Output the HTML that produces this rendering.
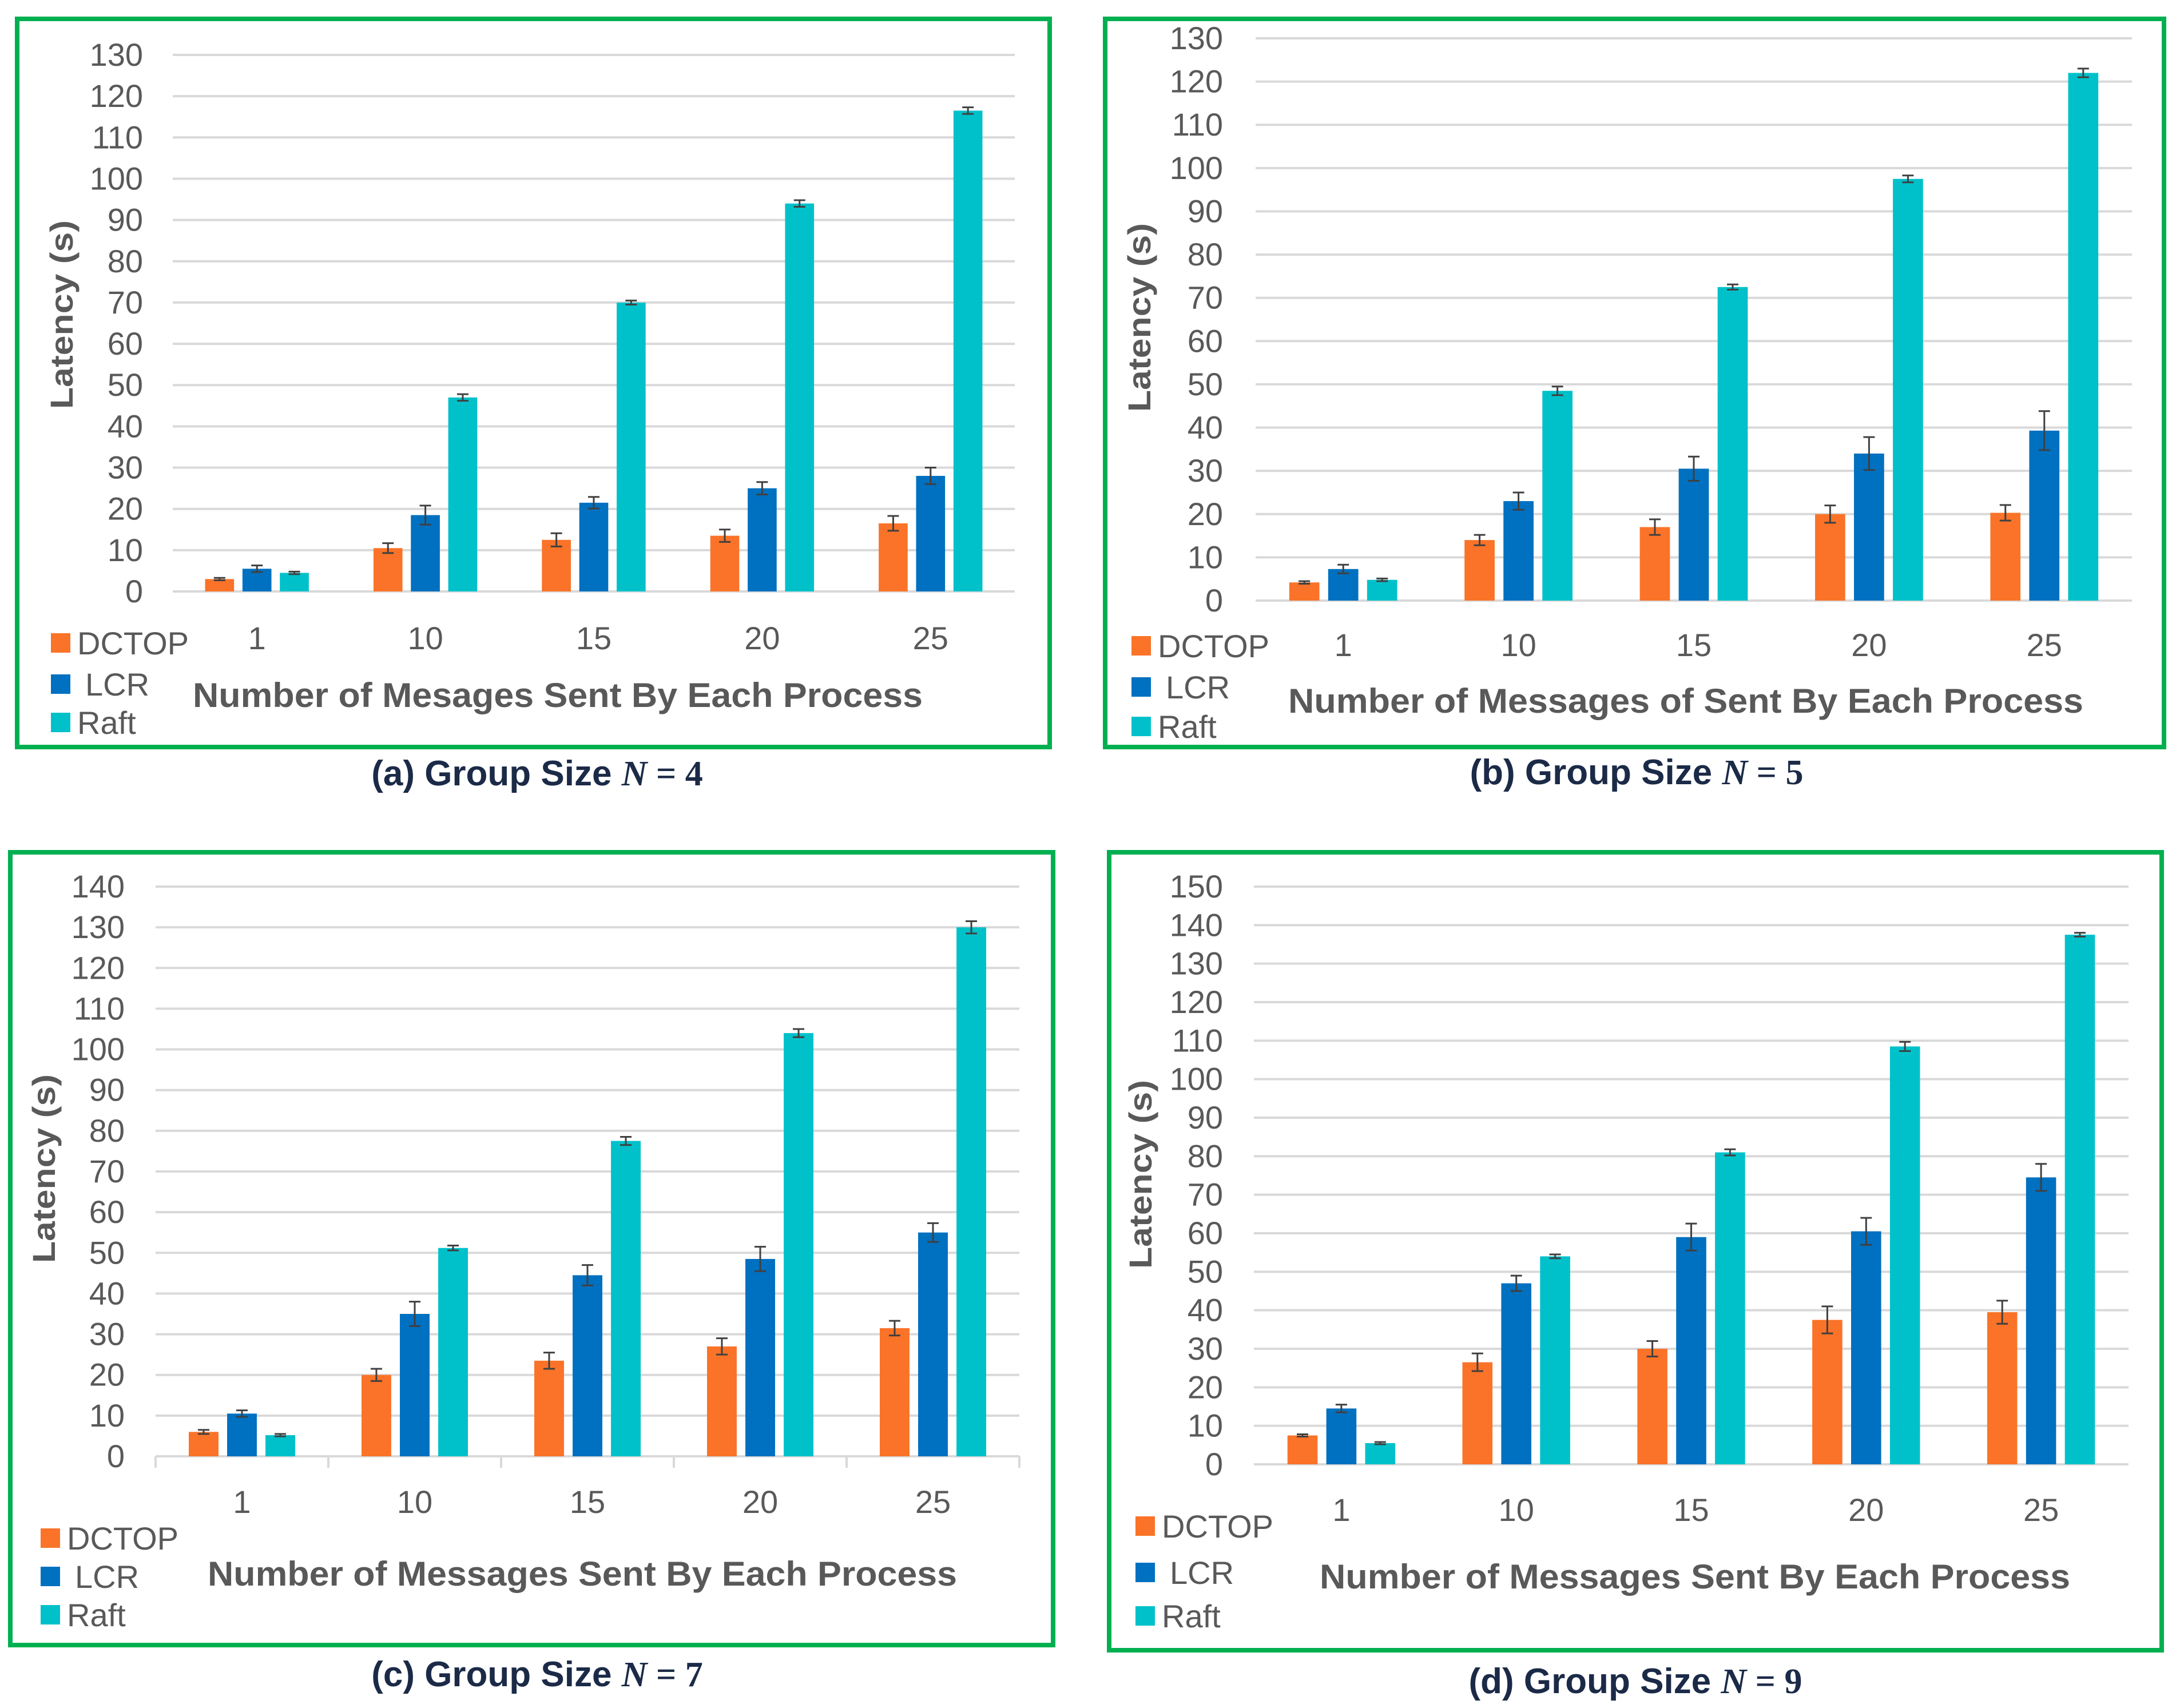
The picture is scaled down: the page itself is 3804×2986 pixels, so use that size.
<!DOCTYPE html>
<html><head><meta charset="utf-8"><style>
html,body{margin:0;padding:0;background:#fff;}
svg{display:block;font-family:"Liberation Sans",sans-serif;}
</style></head><body>
<svg id="root" width="3804" height="2986" viewBox="0 0 3804 2986" xmlns="http://www.w3.org/2000/svg"></svg>
<script>
const categories = ["1","10","15","20","25"];
const seriesNames = ["DCTOP","LCR","Raft"];
const colors = ["#FA7328","#0070C0","#00C1CA"];

const dctopA = [3, 10.5, 12.5, 13.5, 16.5];
const lcrA   = [5.5, 18.5, 21.5, 25, 28];
const raftA  = [4.5, 47, 70, 94, 116.5];
const dctopErrA = [0.3, 1.2, 1.6, 1.5, 1.8];
const lcrErrA   = [0.8, 2.3, 1.4, 1.5, 2];
const raftErrA  = [0.3, 0.8, 0.5, 0.8, 0.8];
const ticksA = [0,10,20,30,40,50,60,70,80,90,100,110,120,130];

const dctopB = [4.2, 14, 17, 20, 20.3];
const lcrB   = [7.3, 23, 30.5, 34, 39.3];
const raftB  = [4.8, 48.5, 72.5, 97.5, 122];
const dctopErrB = [0.3, 1.2, 1.8, 2, 1.8];
const lcrErrB   = [1, 2, 2.8, 3.8, 4.5];
const raftErrB  = [0.3, 1, 0.6, 0.8, 1];
const ticksB = [0,10,20,30,40,50,60,70,80,90,100,110,120,130];

const dctopC = [6, 20, 23.5, 27, 31.5];
const lcrC   = [10.5, 35, 44.5, 48.5, 55];
const raftC  = [5.2, 51.2, 77.5, 104, 130];
const dctopErrC = [0.5, 1.5, 2, 2, 1.8];
const lcrErrC   = [0.8, 3, 2.5, 3, 2.3];
const raftErrC  = [0.3, 0.6, 1, 1, 1.5];
const ticksC = [0,10,20,30,40,50,60,70,80,90,100,110,120,130,140];

const dctopD = [7.5, 26.5, 30, 37.5, 39.5];
const lcrD   = [14.5, 47, 59, 60.5, 74.5];
const raftD  = [5.5, 54, 81, 108.5, 137.5];
const dctopErrD = [0.3, 2.3, 2, 3.5, 3];
const lcrErrD   = [1, 2, 3.5, 3.5, 3.5];
const raftErrD  = [0.3, 0.5, 0.8, 1.2, 0.5];
const ticksD = [0,10,20,30,40,50,60,70,80,90,100,110,120,130,140,150];

const NS = "http://www.w3.org/2000/svg";
const root = document.getElementById("root");
function mk(tag, attrs, parent, text){
  const e = document.createElementNS(NS, tag);
  for (const k in attrs) e.setAttribute(k, attrs[k]);
  if (text !== undefined) e.textContent = text;
  (parent || root).appendChild(e);
  return e;
}

const panels = [
 {id:"a", box:[30,33,1835,1306], x0:302, x1:1774, y0:1034, yTop:96, ticks:ticksA,
  data:[dctopA,lcrA,raftA], err:[dctopErrA,lcrErrA,raftErrA], tickX:250, labY:1115,
  title:"Number of Mesages Sent By Each Process", titleX:975, titleY:1215, titleW:1276,
  legX:89, legY:[1124,1196,1263], yt:[107,550], cap:"(a) Group Size ", capN:"4", capX:939, capY:1351, axisTicks:false},
 {id:"b", box:[1932,33,3783,1306], x0:2195, x1:3727, y0:1050, yTop:67, ticks:ticksB,
  data:[dctopB,lcrB,raftB], err:[dctopErrB,lcrErrB,raftErrB], tickX:2138, labY:1127,
  title:"Number of Messages of Sent By Each Process", titleX:2947, titleY:1225, titleW:1390,
  legX:1978, legY:[1129,1201,1270], yt:[1991,555], cap:"(b) Group Size ", capN:"5", capX:2861, capY:1349, axisTicks:false},
 {id:"c", box:[18,1490,1841,2876], x0:272, x1:1782, y0:2546, yTop:1550, ticks:ticksC,
  data:[dctopC,lcrC,raftC], err:[dctopErrC,lcrErrC,raftErrC], tickX:218, labY:2625,
  title:"Number of Messages Sent By Each Process", titleX:1018, titleY:2751, titleW:1310,
  legX:71, legY:[2689,2756,2823], yt:[76,2043], cap:"(c) Group Size ", capN:"7", capX:939, capY:2926, axisTicks:true},
 {id:"d", box:[1939,1490,3779,2885], x0:2192, x1:3721, y0:2560, yTop:1550, ticks:ticksD,
  data:[dctopD,lcrD,raftD], err:[dctopErrD,lcrErrD,raftErrD], tickX:2138, labY:2639,
  title:"Number of Messages Sent By Each Process", titleX:2963, titleY:2756, titleW:1312,
  legX:1985, legY:[2668,2749,2825], yt:[1993,2053], cap:"(d) Group Size ", capN:"9", capX:2859, capY:2938, axisTicks:false}
];

panels.forEach(p => {
  const g = mk("g", {});
  
  
  const maxT = p.ticks[p.ticks.length-1];
  const yS = v => p.y0 - (v / maxT) * (p.y0 - p.yTop);
  const band = (p.x1 - p.x0) / categories.length;
  const xC = i => p.x0 + band * (i + 0.5);
  const bw = band * 0.172, off = band * 0.222;

  const frame = mk("rect", {x:p.box[0], y:p.box[1], width:p.box[2]-p.box[0], height:p.box[3]-p.box[1], fill:"none", stroke:"#00B050", "stroke-width":8}, g);
  
  

  p.ticks.forEach(t => {
    const y = yS(t);
    const gl = mk("line", {x1:p.x0, x2:p.x1, y1:y, y2:y, stroke:"#D9D9D9", "stroke-width":4}, g);
    
    
    const tl = mk("text", {x:p.tickX, y:y+19, "text-anchor":"end", "font-size":56, fill:"#595959"}, g, String(t));
    
    
  });
  if (p.axisTicks) {
    for (let i = 0; i <= categories.length; i++) {
      const x = p.x0 + band * i;
      const tk = mk("line", {x1:x, x2:x, y1:p.y0, y2:p.y0+20, stroke:"#D9D9D9", "stroke-width":4}, g);
      
      
    }
  }

  categories.forEach((c, i) => {
    p.data.forEach((ser, s) => {
      const v = ser[i], e = p.err[s][i];
      const cx = xC(i) + (s - 1) * off;
      const r = mk("rect", {x:cx - bw/2, y:yS(v), width:bw, height:p.y0 - yS(v), fill:colors[s]}, g);
      
      
      const eg = mk("path", {d:`M${cx-10},${yS(v+e)}H${cx+10}M${cx},${yS(v+e)}V${yS(v-e)}M${cx-10},${yS(v-e)}H${cx+10}`, stroke:"#404040", "stroke-width":3, fill:"none"}, g);
      
      
    });
    const xl = mk("text", {x:xC(i), y:p.labY+20, "text-anchor":"middle", "font-size":56, fill:"#595959"}, g, c);
    
    
  });

  const xt = mk("text", {x:p.titleX, y:p.titleY+21, "text-anchor":"middle", "font-size":60, "font-weight":"bold", fill:"#595959", textLength:p.titleW, lengthAdjust:"spacingAndGlyphs"}, g, p.title);
  
  

  const yt = mk("text", {x:0, y:0, "text-anchor":"middle", "font-size":56, "font-weight":"bold", fill:"#595959", textLength:330, lengthAdjust:"spacingAndGlyphs", transform:`translate(${p.yt[0]+20},${p.yt[1]}) rotate(-90)`}, g, "Latency (s)");
  
  

  seriesNames.forEach((n, s) => {
    const lg = mk("g", {}, g);
    
    
    mk("rect", {x:p.legX, y:p.legY[s]-17, width:34, height:34, fill:colors[s]}, lg);
    mk("text", {x:p.legX + (n === "LCR" ? 60 : 46), y:p.legY[s]+20, "font-size":56, fill:"#595959"}, lg, n);
  });

  const cap = mk("text", {x:p.capX, y:p.capY+22, "text-anchor":"middle", "font-size":62, "font-weight":"bold", fill:"#1B2A47"}, g);
  
  
  mk("tspan", {}, cap, p.cap);
  mk("tspan", {"font-family":"Liberation Serif, serif", "font-style":"italic"}, cap, "N");
  mk("tspan", {"font-family":"Liberation Serif, serif"}, cap, " = ");
  mk("tspan", {"font-family":"Liberation Serif, serif"}, cap, p.capN);
});
</script>
</body></html>
